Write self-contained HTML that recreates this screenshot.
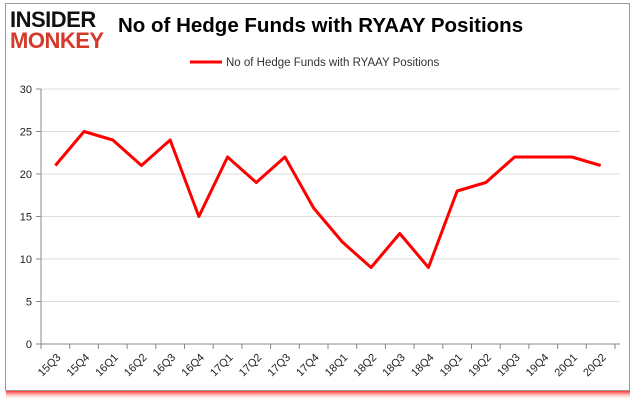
<!DOCTYPE html>
<html><head><meta charset="utf-8"><style>
body{margin:0;width:635px;height:405px;background:#fff;overflow:hidden;font-family:"Liberation Sans",sans-serif}
</style></head><body>
<svg width="635" height="405">
<defs><linearGradient id="sh" x1="0" y1="0" x2="0" y2="1"><stop offset="0" stop-color="#f00"/><stop offset="1" stop-color="#fff" stop-opacity="0"/></linearGradient></defs>
<rect x="6" y="390" width="624" height="10" fill="url(#sh)"/>
<rect x="5.5" y="3.5" width="624" height="387" fill="#fff" stroke="#999"/>
<text x="10" y="27" font-size="22" font-weight="bold" fill="#111" letter-spacing="-0.5">INSIDER</text>
<text x="10" y="48" font-size="22" font-weight="bold" fill="#d43a2a" letter-spacing="-0.5">MONKEY</text>
<text x="118" y="32" font-size="20.5" font-weight="bold" fill="#000">No of Hedge Funds with RYAAY Positions</text>
<line x1="190" y1="62" x2="222" y2="62" stroke="#f00" stroke-width="3"/>
<text x="226" y="66" font-size="11.5" fill="#333">No of Hedge Funds with RYAAY Positions</text>
<g id="axes"></g>
</svg>
<script>
const categories=["15Q3","15Q4","16Q1","16Q2","16Q3","16Q4","17Q1","17Q2","17Q3","17Q4","18Q1","18Q2","18Q3","18Q4","19Q1","19Q2","19Q3","19Q4","20Q1","20Q2"];
const values=[21,25,24,21,24,15,22,19,22,16,12,9,13,9,18,19,22,22,22,21];
const yTicks=[0,5,10,15,20,25,30];
const NS="http://www.w3.org/2000/svg",g=document.getElementById('axes');
const x0=41,x1=615,yb=344,yt=89,ymax=30;
const bw=(x1-x0)/categories.length;
const X=i=>x0+bw*(i+0.5), Y=v=>yb-(v/ymax)*(yb-yt);
function mk(t,a){const e=document.createElementNS(NS,t);for(const k in a)e.setAttribute(k,a[k]);g.appendChild(e);return e;}
yTicks.forEach(v=>{
 const l=mk('line',{x1:x0,x2:x1+5,y1:Y(v),y2:Y(v),stroke:v===0?'#888':'#ddd'});
 
 
 const tk=mk('line',{x1:x0-5,x2:x0,y1:Y(v),y2:Y(v),stroke:'#888'});
 
 
 const t=mk('text',{x:x0-9,y:Y(v)+4,'text-anchor':'end','font-size':11,fill:'#222'});
 t.textContent=v;
 
 
});
const ax=mk('line',{x1:x0,x2:x0,y1:yt,y2:yb,stroke:'#888'});


categories.forEach((c,i)=>{
 const tk=mk('line',{x1:x0+bw*i,x2:x0+bw*i,y1:yb,y2:yb+5,stroke:'#888'});
 
 
 const t=mk('text',{x:X(i)+6,y:yb+14,'text-anchor':'end','font-size':11,fill:'#222',transform:`rotate(-45 ${X(i)+6} ${yb+14})`});
 t.textContent=c;
 
 
});
const tk=mk('line',{x1:x1,x2:x1,y1:yb,y2:yb+5,stroke:'#888'});


const p=mk('polyline',{points:values.map((v,i)=>X(i)+','+Y(v)).join(' '),fill:'none',stroke:'#f00','stroke-width':3,'stroke-linejoin':'round'});


</script>
</body></html>
